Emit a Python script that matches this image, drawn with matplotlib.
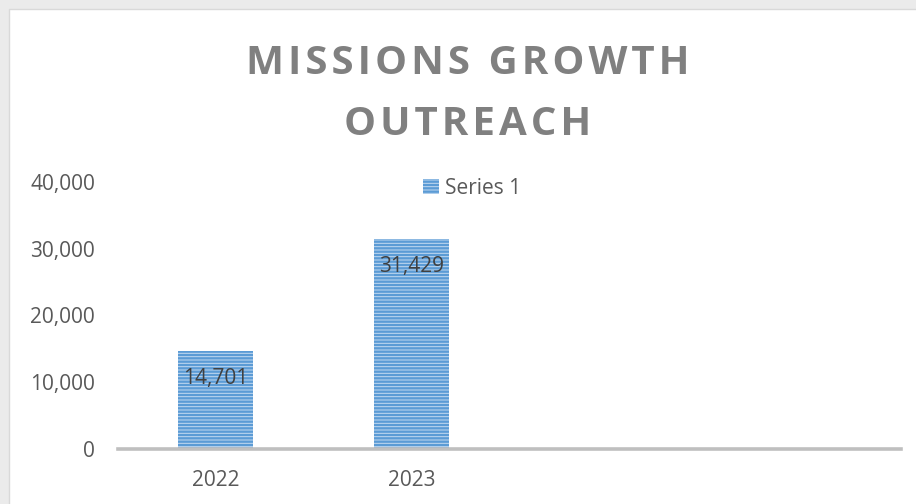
import matplotlib
matplotlib.use("Agg")
import matplotlib.pyplot as plt
from matplotlib.patches import Rectangle
from matplotlib.ticker import FuncFormatter
import numpy as np

# data
categories = ["2022", "2023", "", ""]
values = [14701, 31429, np.nan, np.nan]
series_name = "Series 1"
title = "MISSIONS GROWTH\nOUTREACH"
y_ticks = [0, 10000, 20000, 30000, 40000]

# style
BAR_FACE = "#c3daf0"
BAR_HATCH = "#5b9bd5"
TEXT_GRAY = "#595959"
LABEL_DARK = "#404040"
TITLE_GRAY = "#808080"
AXIS_GRAY = "#bfbfbf"
FONT = ["Open Sans", "DejaVu Sans"]

plt.rcParams["font.family"] = FONT
plt.rcParams["hatch.linewidth"] = 1.7

W, H = 916, 504
fig = plt.figure(figsize=(W / 100, H / 100), dpi=100, facecolor="#ebebeb")

# white chart area (the screenshot is cropped on the right and bottom)
fig.patches.append(Rectangle((9 / W, -0.1), 1.2, 1 - 9 / H + 0.1,
                             transform=fig.transFigure, facecolor="white",
                             edgecolor="#d9d9d9", linewidth=1, zorder=-5))

ax = fig.add_axes([118 / W, 1 - 449 / H, (901 - 118) / W, (449 - 182) / H])
ax.set_facecolor("none")
ax.set_zorder(2)

x = np.arange(len(categories))
bars = ax.bar(x, values, width=0.383, facecolor=BAR_FACE, edgecolor=BAR_HATCH,
              linewidth=0, hatch="-----", label=series_name, zorder=2)

for xi, v in zip(x, values):
    if np.isnan(v):
        continue
    ax.annotate(f"{v:,.0f}", (xi, v), xytext=(0, -20), textcoords="offset points",
                ha="center", va="center", fontsize=15, color=LABEL_DARK, zorder=3)

ax.set_xlim(-0.5, len(categories) - 0.5)
ax.set_ylim(0, 40000)
ax.set_yticks(y_ticks)
ax.yaxis.set_major_formatter(FuncFormatter(lambda v, p: f"{v:,.0f}"))
ax.set_xticks(x)
ax.set_xticklabels(categories)
ax.tick_params(axis="y", length=0, pad=16.5, labelsize=15, labelcolor=TEXT_GRAY)
ax.tick_params(axis="x", length=0, pad=15, labelsize=15, labelcolor=TEXT_GRAY)

for side in ["top", "right", "left"]:
    ax.spines[side].set_visible(False)
ax.spines["bottom"].set_color(AXIS_GRAY)
ax.spines["bottom"].set_linewidth(2.6)
ax.spines["bottom"].set_zorder(4)

leg = ax.legend(loc="center", bbox_to_anchor=(472 / W, 1 - 188 / H),
                bbox_transform=fig.transFigure, frameon=False, fontsize=15,
                handlelength=0.75, handleheight=0.75, handletextpad=0.3,
                labelcolor=TEXT_GRAY, borderpad=0)

# title with a little letter spacing (hair spaces between letters)
spaced_title = "\n".join("\u200a".join(line) for line in title.split("\n"))
fig.text(468 / W, 1 - 94 / H, spaced_title, ha="center", va="center",
         fontsize=29, fontweight="bold", color=TITLE_GRAY, linespacing=1.72)

fig.savefig("out.png", dpi=100, facecolor=fig.get_facecolor())
